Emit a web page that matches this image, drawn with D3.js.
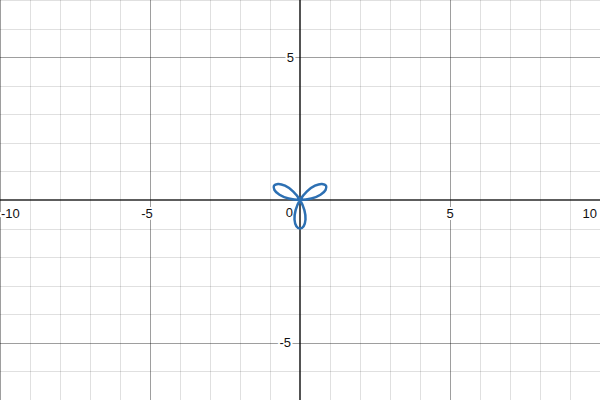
<!DOCTYPE html>
<html>
<head>
<meta charset="utf-8">
<script src="https://cdn.jsdelivr.net/npm/d3@7"></script>
<style>
  html, body { margin: 0; padding: 0; background: #fff; }
  svg { display: block; }
  text { font-family: Arial, "Liberation Sans", sans-serif; font-size: 13px; fill: #111; }
</style>
</head>
<body>
<svg id="chart" width="600" height="400"></svg>
<script>
// Viewport of the graph
const xDomain = [-10, 10];
const yDomain = [-7, 7];

// Tick labels
const xTickLabels = [-10, -5, 0, 5, 10];
const yTickLabels = [-5, 5];

// Points (x, y), traced in order
const curveX = [0, 0.379, 0.683, 0.854, 0.866, 0.733, 0.5, 0.233,
                0, -0.146, -0.183, -0.121, 0, 0.121, 0.183, 0.146,
                0, -0.233, -0.5, -0.733, -0.866, -0.854, -0.683, -0.379];
const curveY = [0, 0.050, 0.183, 0.354, 0.5, 0.562, 0.5, 0.304,
                0, -0.354, -0.683, -0.916, -1, -0.916, -0.683, -0.354,
                0, 0.304, 0.5, 0.562, 0.5, 0.354, 0.183, 0.050];

const W = 600, H = 400;
const svg = d3.select("#chart");
const x = d3.scaleLinear().domain(xDomain).range([0, W]);
const y = d3.scaleLinear().domain(yDomain).range([H, 0]);

const minorX = d3.range(Math.ceil(xDomain[0]), Math.floor(xDomain[1]) + 1);
const minorY = d3.range(Math.ceil(yDomain[0]), Math.floor(yDomain[1]) + 1);

const grid = svg.append("g").attr("shape-rendering", "crispEdges");
// minor grid
grid.selectAll(".mx").data(minorX.filter(d => d % 5 !== 0)).join("line")
  .attr("x1", d => Math.round(x(d)) + 0.5).attr("x2", d => Math.round(x(d)) + 0.5)
  .attr("y1", 0).attr("y2", H).attr("stroke", "#000").attr("stroke-opacity", 0.12);
grid.selectAll(".my").data(minorY.filter(d => d % 5 !== 0)).join("line")
  .attr("y1", d => Math.round(y(d)) + 0.5).attr("y2", d => Math.round(y(d)) + 0.5)
  .attr("x1", 0).attr("x2", W).attr("stroke", "#000").attr("stroke-opacity", 0.12);
// major grid
grid.selectAll(".Mx").data(minorX.filter(d => d % 5 === 0 && d !== 0)).join("line")
  .attr("x1", d => Math.round(x(d)) + 0.5).attr("x2", d => Math.round(x(d)) + 0.5)
  .attr("y1", 0).attr("y2", H).attr("stroke", "#000").attr("stroke-opacity", 0.38);
grid.selectAll(".My").data(minorY.filter(d => d % 5 === 0 && d !== 0)).join("line")
  .attr("y1", d => Math.round(y(d)) + 0.5).attr("y2", d => Math.round(y(d)) + 0.5)
  .attr("x1", 0).attr("x2", W).attr("stroke", "#000").attr("stroke-opacity", 0.38);

// axes
svg.append("line").attr("x1", 0).attr("x2", W).attr("y1", y(0)).attr("y2", y(0))
  .attr("stroke", "#000").attr("stroke-width", 1.6).attr("stroke-opacity", 0.85);
svg.append("line").attr("y1", 0).attr("y2", H).attr("x1", x(0)).attr("x2", x(0))
  .attr("stroke", "#000").attr("stroke-width", 1.6).attr("stroke-opacity", 0.85);

// labels
const lab = svg.append("g");
lab.selectAll(".xl").data(xTickLabels.filter(d => d !== 0)).join("text")
  .attr("x", d => {
    let px = x(d) + (d < 0 ? -3 : 0);
    return Math.max(1 + 0, Math.min(W - 3, px));
  })
  .attr("text-anchor", d => d === xDomain[0] ? "start" : d === xDomain[1] ? "end" : "middle")
  .attr("y", y(0) + 18)
  .attr("stroke", "#fff").attr("stroke-width", 4).attr("paint-order", "stroke")
  .text(d => d < 0 ? "-" + Math.abs(d) : d);
lab.append("text").attr("x", x(0) - 7).attr("y", y(0) + 17).attr("text-anchor", "end")
  .attr("stroke", "#fff").attr("stroke-width", 4).attr("paint-order", "stroke")
  .text(xTickLabels.find(d => d === 0));
lab.selectAll(".yl").data(yTickLabels).join("text")
  .attr("x", d => x(0) - 6 + (d < 0 ? -3 : 0))
  .attr("y", d => y(d) + 4.5)
  .attr("text-anchor", "end")
  .attr("stroke", "#fff").attr("stroke-width", 4).attr("paint-order", "stroke")
  .text(d => d < 0 ? "-" + Math.abs(d) : d);

// curve
const pts = curveX.map((v, i) => [v, curveY[i]]);
const line = d3.line().x(d => x(d[0])).y(d => y(d[1])).curve(d3.curveCatmullRomClosed.alpha(0.5));
svg.append("path").attr("d", line(pts))
  .attr("fill", "none").attr("stroke", "#2d70b3").attr("stroke-width", 2.5)
  .attr("stroke-linejoin", "round");
</script>
</body>
</html>
